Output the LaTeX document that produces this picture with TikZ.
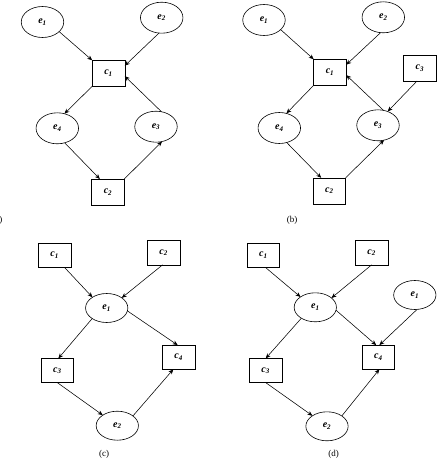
\documentclass[tikz,border=0pt]{standalone}
\usepackage{fontspec}
\setmainfont{Liberation Serif}
\usetikzlibrary{arrows.meta,shapes.geometric}
\newcommand{\lab}[2]{\textbf{\textit{#1}}\textsubscript{\textbf{\textit{#2}}}}
\begin{document}
\begin{tikzpicture}[x=1pt,y=-1pt,
  every node/.style={inner sep=0pt,outer sep=0pt},
  ev/.style={draw,ellipse,line width=0.6pt,minimum width=42.5pt,minimum height=31pt,font=\fontsize{10}{12}\selectfont},
  evb/.style={ev,minimum width=42.3pt,minimum height=29pt},
  bx/.style={draw,rectangle,line width=0.6pt,minimum width=32.6pt,minimum height=26pt,font=\fontsize{10}{12}\selectfont},
  bxb/.style={bx,minimum height=24.2pt},
  captxt/.style={font=\fontsize{9}{11}\selectfont},
  ar/.style={-{Stealth[length=5pt,width=4.2pt]},line width=0.55pt}]
\useasboundingbox (0,0) rectangle (444,468);
% ---------- (a)
\node[ev] (ae1) at (42.5,22) {\lab{e}{1}};
\node[ev] (ae2) at (161.7,17.7) {\lab{e}{2}};
\node[bx] (ac1) at (108.5,73.3) {\lab{c}{1}};
\node[ev] (ae4) at (57.3,128.3) {\lab{e}{4}};
\node[ev] (ae3) at (156,126.7) {\lab{e}{3}};
\node[bx] (ac2) at (108,192) {\lab{c}{2}};
\node[captxt,anchor=east] (acap) at (2.3,220) {(a)};
\draw[ar] (ae1.-30) -- (ac1.north west);
\draw[ar] (ae2.-100) -- (ac1.25);
\draw[ar] (ae3.70) -- (ac1.-10);
\draw[ar] (ac1.south west) -- (ae4.64);
\draw[ar] (ae4.-63) -- (ac2.122);
\draw[ar] (ac2.north east) -- (ae3.-68);
% ---------- (b)
\node[ev] (be1) at (264,20) {\lab{e}{1}};
\node[ev] (be2) at (383.3,17.3) {\lab{e}{2}};
\node[bx] (bc1) at (330,72.3) {\lab{c}{1}};
\node[bx] (bc3) at (419.8,68) {\lab{c}{3}};
\node[ev] (be4) at (279.3,128) {\lab{e}{4}};
\node[ev] (be3) at (378,125.3) {\lab{e}{3}};
\node[bx] (bc2) at (329.3,190.8) {\lab{c}{2}};
\node[captxt] (bcap) at (292,220) {(b)};
\draw[ar] (be1.-30) -- (bc1.north west);
\draw[ar] (be2.-100) -- (bc1.25);
\draw[ar] (be3.70) -- (bc1.-10);
\draw[ar] (bc3.-102) -- (be3.55);
\draw[ar] (bc1.south west) -- (be4.64);
\draw[ar] (be4.-63) -- (bc2.122);
\draw[ar] (bc2.north east) -- (be3.-68);
% ---------- (c)
\node[bxb] (cc1) at (54.7,255.3) {\lab{c}{1}};
\node[bxb] (cc2) at (163.7,252.7) {\lab{c}{2}};
\node[evb] (ce1) at (106.7,308) {\lab{e}{1}};
\node[bxb] (cc3) at (57.3,370.5) {\lab{c}{3}};
\node[bxb] (cc4) at (178.7,357.2) {\lab{c}{4}};
\node[evb] (ce2) at (117.3,425.7) {\lab{e}{2}};
\node[captxt] (ccap) at (104,454.7) {(c)};
\draw[ar] (cc1.-51) -- (ce1.143);
\draw[ar] (cc2.-95) -- (ce1.34);
\draw[ar] (ce1.-144) -- (cc3.85);
\draw[ar] (ce1.-8) -- (cc4.95);
\draw[ar] (cc3.-90) -- (ce2.144);
\draw[ar] (ce2.32) -- (cc4.-114);
% ---------- (d)
\node[bxb] (dc1) at (263.3,255.3) {\lab{c}{1}};
\node[bxb] (dc2) at (371.7,252.7) {\lab{c}{2}};
\node[evb] (de1) at (315.3,307.3) {\lab{e}{1}};
\node[evb] (df1) at (414.8,295) {\lab{e}{1}};
\node[bxb] (dc3) at (265.7,370.5) {\lab{c}{3}};
\node[bxb] (dc4) at (378.3,357.2) {\lab{c}{4}};
\node[evb] (de2) at (327,426.3) {\lab{e}{2}};
\node[captxt] (dcap) at (333.7,454.7) {(d)};
\draw[ar] (dc1.-80) -- (de1.145);
\draw[ar] (dc2.-90) -- (de1.30);
\draw[ar] (de1.-142) -- (dc3.90);
\draw[ar] (de1.-8) -- (dc4.100);
\draw[ar] (df1.-81) -- (dc4.85);
\draw[ar] (dc3.-90) -- (de2.144);
\draw[ar] (de2.35) -- (dc4.-85);
\end{tikzpicture}
\end{document}
